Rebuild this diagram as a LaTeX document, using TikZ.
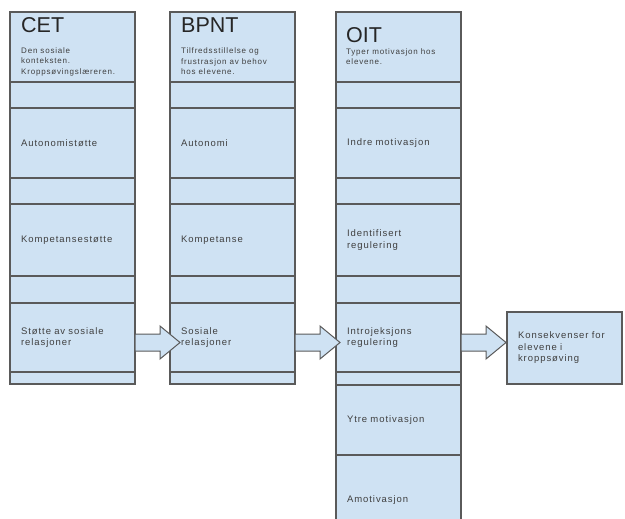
\documentclass[tikz,border=0pt]{standalone}
\usepackage{fontspec}
\setmainfont{Liberation Sans}
\newfontfamily\rowfont[LetterSpace=10]{Liberation Sans}
\newfontfamily\subfont[LetterSpace=10]{Liberation Sans}
\usetikzlibrary{calc}
\definecolor{cellblue}{HTML}{CFE2F3}
\definecolor{edgegray}{HTML}{5A5A5A}
\definecolor{txtgray}{HTML}{404040}
\tikzset{
  cell/.style={draw=edgegray, line width=1.2pt, fill=cellblue, anchor=north west,
    outer sep=0pt, inner xsep=11pt, inner ysep=0pt, text width=103pt, align=left,
    minimum width=125pt, font=\rowfont\fontsize{9.5}{11.5}\selectfont, text=txtgray},
  titletext/.style={anchor=base west, inner sep=0pt, font=\fontsize{21.5}{24}\selectfont, text=black!85},
  subtext/.style={anchor=north west, inner sep=0pt, align=left, font=\subfont\fontsize{8}{10.5}\selectfont, text=txtgray},
  arrowsty/.style={draw=edgegray, line width=1pt, fill=cellblue, line join=miter}
}
\newcommand\blockarrow[2]{%
  \draw[arrowsty] let \p1=(#1.east), \p2=(#2.west) in
    (\x1,\y1+3.5pt) -- (\x1+25pt,\y1+3.5pt) -- (\x1+25pt,\y1+11.5pt)
    -- (\x1+45pt,\y1-5pt) -- (\x1+25pt,\y1-21.5pt) -- (\x1+25pt,\y1-13.5pt)
    -- (\x1,\y1-13.5pt) -- cycle;}
\begin{document}
\begin{tikzpicture}[x=1pt,y=-1pt]
\useasboundingbox (0,0) rectangle (625,519);
\clip (0,0) rectangle (625,519);
% ---------- CET ----------
\node[cell, minimum height=70pt] (cet0) at (10,12) {};
\node[cell, minimum height=26pt] (cetb1) at (10,82) {};
\node[cell, minimum height=70pt] (cet1) at (10,108) {Autonomistøtte};
\node[cell, minimum height=26pt] (cetb2) at (10,178) {};
\node[cell, minimum height=72pt] (cet2) at (10,204) {Kompetansestøtte};
\node[cell, minimum height=27pt] (cetb3) at (10,276) {};
\node[cell, minimum height=69pt] (cet3) at (10,303) {Støtte av sosiale\\relasjoner};
\node[cell, minimum height=12pt] (cetb4) at (10,372) {};
\node[titletext] (cett) at (21,33) {CET};
\node[subtext] (cets) at (21,47.5) {Den sosiale\\konteksten.\\Kroppsøvingslæreren.};
% ---------- BPNT ----------
\node[cell, minimum height=70pt] (bp0) at (170,12) {};
\node[cell, minimum height=26pt] (bpb1) at (170,82) {};
\node[cell, minimum height=70pt] (bp1) at (170,108) {Autonomi};
\node[cell, minimum height=26pt] (bpb2) at (170,178) {};
\node[cell, minimum height=72pt] (bp2) at (170,204) {Kompetanse};
\node[cell, minimum height=27pt] (bpb3) at (170,276) {};
\node[cell, minimum height=69pt] (bp3) at (170,303) {Sosiale\\relasjoner};
\node[cell, minimum height=12pt] (bpb4) at (170,372) {};
\node[titletext] (bpt) at (181,33) {BPNT};
\node[subtext] (bps) at (181,48) {Tilfredsstillelse og\\frustrasjon av behov\\hos elevene.};
% ---------- OIT ----------
\node[cell, minimum height=70pt] (oit0) at (336,12) {};
\node[cell, minimum height=26pt] (oitb1) at (336,82) {};
\node[cell, minimum height=70pt] (oit1) at (336,108) {Indre motivasjon};
\node[cell, minimum height=26pt] (oitb2) at (336,178) {};
\node[cell, minimum height=72pt] (oit2) at (336,204) {Identifisert\\regulering};
\node[cell, minimum height=27pt] (oitb3) at (336,276) {};
\node[cell, minimum height=69pt] (oit3) at (336,303) {Introjeksjons\\regulering};
\node[cell, minimum height=13pt] (oitb4) at (336,372) {};
\node[cell, minimum height=70pt] (oit4) at (336,385) {Ytre motivasjon};
\node[cell, minimum height=90pt] (oit5) at (336,455) {Amotivasjon};
\node[titletext] (oitt) at (346,43) {OIT};
\node[subtext] (oits) at (346,48.5) {Typer motivasjon hos\\elevene.};
% ---------- Konsekvenser ----------
\node[cell, minimum height=72pt, minimum width=115pt, text width=93pt] (kons) at (507,312) {Konsekvenser for\\elevene i\\kroppsøving};
% ---------- arrows ----------
\blockarrow{cet3}{bp3}
\blockarrow{bp3}{oit3}
\blockarrow{oit3}{kons}
\end{tikzpicture}
\end{document}
